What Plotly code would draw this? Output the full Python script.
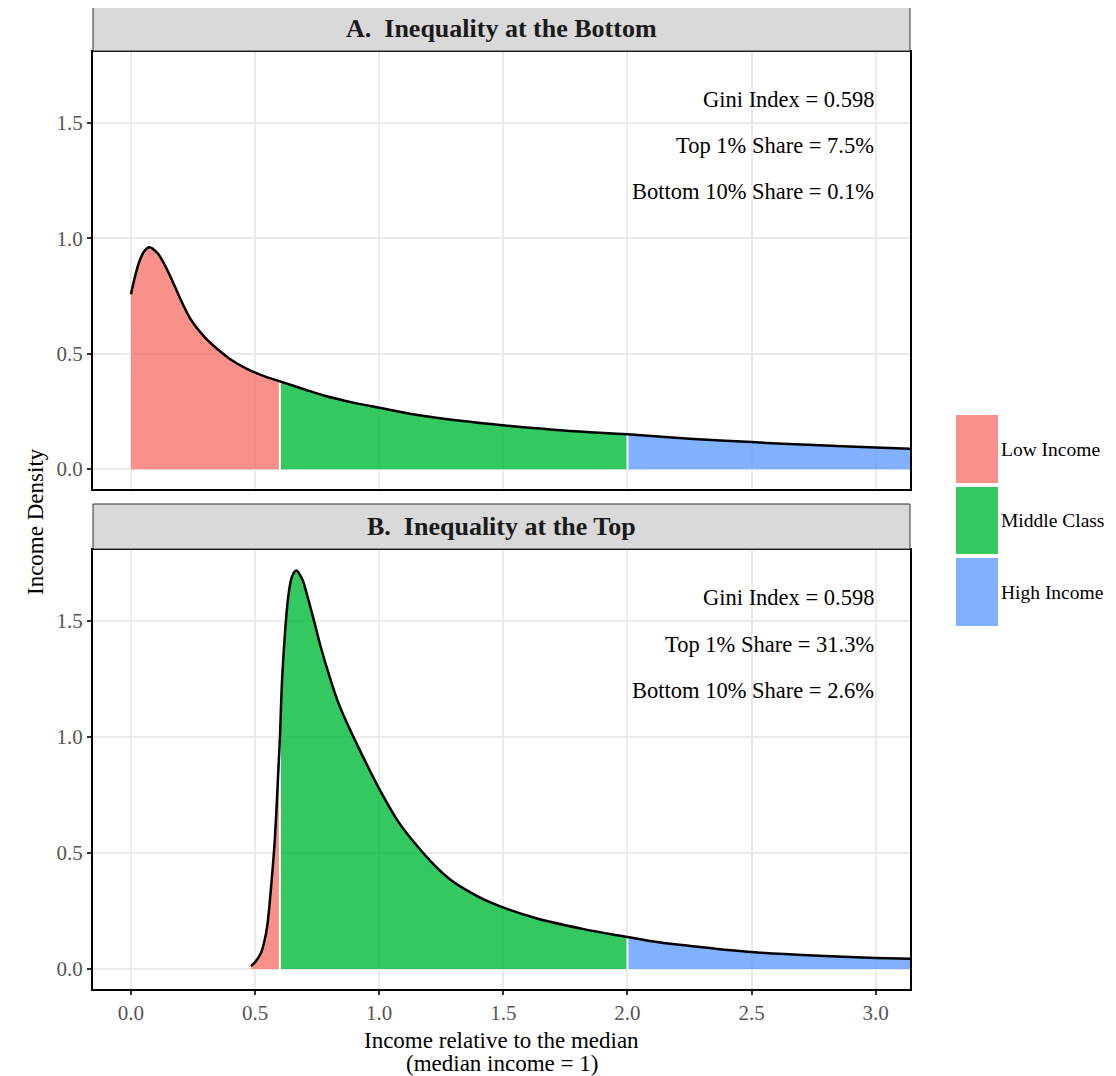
import plotly.graph_objects as go

# ---------------- data ----------------
categories = ["Low Income", "Middle Class", "High Income"]
breaks = [0.6, 2.0]  # class boundaries (income relative to median)

panel_titles = ["A.  Inequality at the Bottom", "B.  Inequality at the Top"]

a_x = [0.0, 0.013, 0.034, 0.054, 0.074, 0.107, 0.134, 0.161, 0.201, 0.241, 0.295, 0.349,
       0.40, 0.469, 0.53, 0.60, 0.70, 0.78, 0.90, 1.00, 1.18, 1.45, 1.70, 1.85, 2.00,
       2.25, 2.50, 2.75, 3.00, 3.20]
a_y = [0.757, 0.82, 0.90, 0.944, 0.961, 0.935, 0.888, 0.829, 0.732, 0.648, 0.574, 0.519,
       0.476, 0.433, 0.405, 0.380, 0.345, 0.318, 0.287, 0.266, 0.230, 0.195, 0.171, 0.160, 0.151,
       0.132, 0.117, 0.104, 0.094, 0.085]

b_x = [0.483, 0.50, 0.523, 0.537, 0.550, 0.563, 0.579, 0.593, 0.60, 0.610, 0.633, 0.648,
       0.666, 0.69, 0.71, 0.74, 0.764, 0.80, 0.831, 0.87, 0.912, 0.96, 1.006, 1.08, 1.153,
       1.22, 1.287, 1.36, 1.448, 1.622, 1.824, 2.00, 2.09, 2.30, 2.50, 2.75, 3.00, 3.20]
b_y = [0.013, 0.03, 0.068, 0.118, 0.195, 0.337, 0.553, 0.842, 1.00, 1.274, 1.600, 1.690,
       1.718, 1.680, 1.610, 1.490, 1.390, 1.260, 1.160, 1.060, 0.965, 0.860, 0.765, 0.630, 0.530,
       0.450, 0.385, 0.335, 0.287, 0.222, 0.172, 0.138, 0.121, 0.094, 0.073, 0.058, 0.048, 0.042]

a_stats = ["Gini Index = 0.598", "Top 1% Share = 7.5%", "Bottom 10% Share = 0.1%"]
b_stats = ["Gini Index = 0.598", "Top 1% Share = 31.3%", "Bottom 10% Share = 2.6%"]
stat_y = [1.6, 1.4, 1.2]

x_ticks = [0.0, 0.5, 1.0, 1.5, 2.0, 2.5, 3.0]
y_ticks = [0.0, 0.5, 1.0, 1.5]

# ---------------- styles ----------------
FONT = "Liberation Serif"
fill_colors = ["rgba(248,118,109,0.8)", "rgba(0,186,56,0.8)", "rgba(97,156,255,0.8)"]
OFF = 8                      # page body margin
W, H = 1116 - OFF, 1076 - OFF
SMOOTH = 0.9


def px(xp):
    return (xp - OFF) / W


def py(yp):
    return 1 - (yp - OFF) / H


px_l, px_r = 93, 910
panels_px = [(52, 489), (550, 989)]
strips_px = [(6, 51), (504, 549)]

fig = go.Figure()

bounds = [(-1e9, breaks[0]), (breaks[0], breaks[1]), (breaks[1], 1e9)]
panel_data = [(a_x, a_y, a_stats), (b_x, b_y, b_stats)]

for pi, (xs, ys, stats) in enumerate(panel_data):
    xa = "x" if pi == 0 else "x2"
    ya = "y" if pi == 0 else "y2"
    for ci, (lo, hi) in enumerate(bounds):
        sx = [x for x in xs if lo <= x <= hi]
        sy = [y for x, y in zip(xs, ys) if lo <= x <= hi]
        if len(sx) < 2:
            continue
        fig.add_trace(go.Scatter(x=sx, y=sy, mode="lines", fill="tozeroy",
                                 fillcolor=fill_colors[ci],
                                 line=dict(width=0, shape="spline", smoothing=SMOOTH),
                                 xaxis=xa, yaxis=ya, showlegend=False, hoverinfo="skip"))
    # white separators at class boundaries
    for b in breaks:
        if b in xs:
            yb = ys[xs.index(b)]
            fig.add_trace(go.Scatter(x=[b, b], y=[0, yb], mode="lines",
                                     line=dict(color="white", width=2),
                                     xaxis=xa, yaxis=ya, showlegend=False, hoverinfo="skip"))
    fig.add_trace(go.Scatter(x=xs, y=ys, mode="lines",
                             line=dict(color="black", width=2.5, shape="spline", smoothing=SMOOTH),
                             xaxis=xa, yaxis=ya, showlegend=False, hoverinfo="skip"))
    for t, yv in zip(stats, stat_y):
        fig.add_annotation(x=3.0, y=yv, xref=xa, yref=ya, text=t, showarrow=False,
                           xanchor="right", yanchor="middle",
                           font=dict(family=FONT, size=22.5, color="black"))

xdom = [px(px_l), px(px_r)]


def ydom(top, bot):
    return [py(bot), py(top)]


yrange = [-0.086, 1.806]
xrange = [-0.153, 3.138]


def axis(**kw):
    base = dict(showgrid=True, gridcolor="#EBEBEB", gridwidth=1.5,
                zeroline=False, showline=True, linecolor="black", linewidth=2, mirror=True,
                ticks="outside", ticklen=4, tickcolor="#333333", tickwidth=1.5)
    base.update(kw)
    return base


tick_font = dict(family=FONT, size=21, color="#555555")

fig.update_layout(
    width=W, height=H,
    margin=dict(l=0, r=0, t=0, b=0),
    plot_bgcolor="white", paper_bgcolor="white",
    xaxis=axis(range=xrange, domain=xdom, anchor="y",
               tickvals=x_ticks, showticklabels=False, ticks=""),
    yaxis=axis(range=yrange, domain=ydom(*panels_px[0]), anchor="x",
               tickvals=y_ticks, tickformat=".1f", tickfont=tick_font),
    xaxis2=axis(range=xrange, domain=xdom, anchor="y2",
                tickvals=x_ticks, tickformat=".1f", tickfont=tick_font),
    yaxis2=axis(range=yrange, domain=ydom(*panels_px[1]), anchor="x2",
                tickvals=y_ticks, tickformat=".1f", tickfont=tick_font),
)

# facet strips
for (top, bot), title in zip(strips_px, panel_titles):
    fig.add_shape(type="rect", xref="paper", yref="paper",
                  x0=px(px_l), x1=px(px_r), y0=py(bot), y1=py(top),
                  fillcolor="#D9D9D9", line=dict(color="#333333", width=1))
    fig.add_annotation(xref="paper", yref="paper", x=px((px_l + px_r) / 2),
                       y=py((top + bot) / 2), text="<b>" + title + "</b>",
                       showarrow=False, xanchor="center", yanchor="middle",
                       font=dict(family=FONT, size=26, color="#1A1A1A"))

# axis titles
for txt, yp in [("Income relative to the median", 1040), ("(median income = 1)", 1063)]:
    fig.add_annotation(xref="paper", yref="paper", x=px((px_l + px_r) / 2), y=py(yp),
                       text=txt, showarrow=False, xanchor="center", yanchor="middle",
                       font=dict(family=FONT, size=23, color="black"))
fig.add_annotation(xref="paper", yref="paper", x=px(35), y=py(522),
                   text="Income Density", textangle=-90, showarrow=False,
                   xanchor="center", yanchor="middle",
                   font=dict(family=FONT, size=23, color="black"))

# legend (drawn manually to mimic ggplot keys)
key_px = [(415, 483), (487, 554), (558, 626)]
for (top, bot), cat, col in zip(key_px, categories, fill_colors):
    fig.add_shape(type="rect", xref="paper", yref="paper",
                  x0=px(956), x1=px(998), y0=py(bot), y1=py(top),
                  fillcolor=col, line=dict(width=0))
    fig.add_annotation(xref="paper", yref="paper", x=px(999), y=py((top + bot) / 2),
                       text=cat, showarrow=False, xanchor="left", yanchor="middle",
                       font=dict(family=FONT, size=19.5, color="black"))

fig.write_html("out.html")
